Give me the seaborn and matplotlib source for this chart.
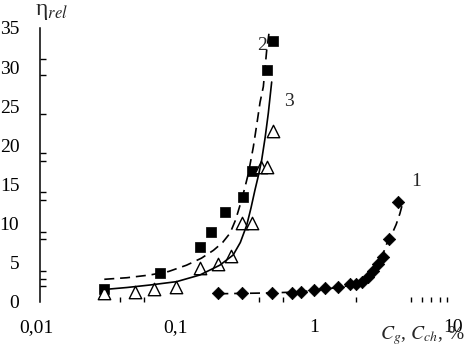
import matplotlib
matplotlib.use("Agg")
import matplotlib.pyplot as plt
import seaborn as sns
from matplotlib.ticker import FixedLocator, NullFormatter, FixedFormatter

# ---- data ----
# series 1 (filled diamonds)
d_x = [0.205, 0.305, 0.496, 0.692, 0.80, 1.0, 1.2, 1.5, 1.82, 2.0, 2.2, 2.46, 2.67, 2.9, 3.15, 3.48, 4.0]
d_y = [1.1, 1.2, 1.2, 1.2, 1.3, 1.5, 1.75, 1.95, 2.25, 2.3, 2.6, 3.2, 4.0, 4.9, 5.7, 8.1, 12.8]
# series 2 (filled squares)
s_x = [0.031, 0.0776, 0.151, 0.1816, 0.230, 0.307, 0.356, 0.457, 0.51]
s_y = [1.62, 3.74, 7.07, 8.9, 11.5, 13.4, 16.7, 29.6, 33.4]
# series 3 (open triangles)
t_x = [0.031, 0.0515, 0.071, 0.1017, 0.152, 0.205, 0.254, 0.303, 0.356, 0.419, 0.457, 0.51]
t_y = [1.2, 1.3, 1.6, 1.9, 4.3, 4.8, 5.9, 10.1, 10.1, 17.3, 17.3, 21.8]

# fitted curves
c1_x = [0.205, 0.3, 0.45, 0.7, 1.0, 1.4, 1.8, 2.14, 2.5, 2.83, 3.1, 3.33, 3.6, 3.9, 4.15, 4.37]
c1_y = [1.05, 1.1, 1.15, 1.25, 1.45, 1.8, 2.1, 2.4, 3.3, 4.7, 5.9, 7.4, 8.5, 9.9, 11.3, 12.8]
c2_x = [0.031, 0.045, 0.066, 0.09, 0.121, 0.155, 0.189, 0.22, 0.249, 0.273, 0.294, 0.316,
        0.337, 0.366, 0.39, 0.409, 0.432, 0.457, 0.48]
c2_y = [2.9, 3.1, 3.45, 3.9, 4.7, 5.6, 6.6, 7.6, 8.8, 10.5, 12.4, 14.4,
        16.4, 19.8, 23.0, 25.5, 27.5, 32.2, 35.0]
c3_x = [0.031, 0.045, 0.066, 0.1027, 0.151, 0.21, 0.262, 0.295, 0.328, 0.352, 0.376, 0.40,
        0.42, 0.445, 0.469, 0.496]
c3_y = [1.6, 1.85, 2.17, 2.6, 3.45, 4.7, 6.0, 7.6, 9.8, 12.0, 14.3, 16.3,
        18.1, 21.0, 24.1, 28.1]

x_major = [0.01, 0.1, 1, 10]
x_labels = ["0,01", "0,1", "1", "10"]
x_minor = [0.04, 0.06, 0.1, 0.4, 0.6, 2, 5, 6, 7, 8, 9]
y_major = [0, 5, 10, 15, 20, 25, 30, 35]
y_minor = [0, 2, 3, 4, 8, 9, 13, 14, 15, 18, 19, 20, 24, 25, 29, 30, 31, 35]

# ---- style ----
sns.set_style("ticks")
plt.rcParams["font.family"] = ["Liberation Serif", "DejaVu Serif"]
plt.rcParams["mathtext.fontset"] = "stix"

W, H = 465, 349
fig = plt.figure(figsize=(W / 100, H / 100), dpi=100)
ax = fig.add_axes([36 / W, 47 / H, 417 / W, 274 / H])
ax.set_xscale("log")

# markers
sns.scatterplot(x=d_x, y=d_y, ax=ax, marker="D", s=40, color="black",
                edgecolor="black", linewidth=0.5, zorder=2)
sns.scatterplot(x=s_x, y=s_y, ax=ax, marker="s", s=52, color="black",
                edgecolor="black", linewidth=0.5, zorder=2)
sns.scatterplot(x=t_x, y=t_y, ax=ax, marker="^", s=80, facecolor="white",
                edgecolor="black", linewidth=1.0, zorder=2)

# curves
sns.lineplot(x=c1_x, y=c1_y, ax=ax, color="black", linewidth=1.2,
             linestyle=(0, (6, 3.5)), sort=False, estimator=None, zorder=3)
sns.lineplot(x=c2_x, y=c2_y, ax=ax, color="black", linewidth=1.2,
             linestyle=(0, (6, 3.5)), sort=False, estimator=None, zorder=3)
sns.lineplot(x=c3_x, y=c3_y, ax=ax, color="black", linewidth=1.2,
             linestyle="-", sort=False, estimator=None, zorder=3)

ax.set_xlim(0.01, 10)
ax.set_ylim(0, 35)

# spines
for side in ["top", "right", "bottom"]:
    ax.spines[side].set_visible(False)
ax.spines["left"].set_position(("data", 0.0107))
ax.spines["left"].set_linewidth(1.1)
ax.spines["left"].set_color("black")

# x ticks
ax.xaxis.set_major_locator(FixedLocator(x_major))
ax.xaxis.set_major_formatter(FixedFormatter(x_labels))
ax.xaxis.set_minor_locator(FixedLocator(x_minor))
ax.xaxis.set_minor_formatter(NullFormatter())
ax.tick_params(axis="x", which="major", length=0, pad=12, labelsize=14, colors="black")
ax.tick_params(axis="x", which="minor", length=3.5, width=1.0, direction="in", color="black")

# y ticks
ax.yaxis.set_major_locator(FixedLocator(y_major))
ax.yaxis.set_minor_locator(FixedLocator(y_minor))
ax.yaxis.set_minor_formatter(NullFormatter())
ax.tick_params(axis="y", which="major", length=0, pad=15, labelsize=14, colors="black")
ax.tick_params(axis="y", which="minor", length=4, width=1.0, direction="in", color="black")
ax.set_xlabel("")
ax.set_ylabel("")

# texts
def ftext(x, y, s, **kw):
    fig.text(x / W, 1 - y / H, s, **kw)

ftext(35, 12, r"η$_{rel}$", fontsize=17, ha="left", va="center")
ftext(380, 336, r"$C_g$, $C_{ch}$, %", fontsize=14, ha="left", va="center")
ftext(416, 182, "1", fontsize=14, ha="center", va="center")
ftext(262, 45, "2", fontsize=14, ha="center", va="center")
ftext(289, 101, "3", fontsize=14, ha="center", va="center")

fig.savefig("out.png", dpi=100)
